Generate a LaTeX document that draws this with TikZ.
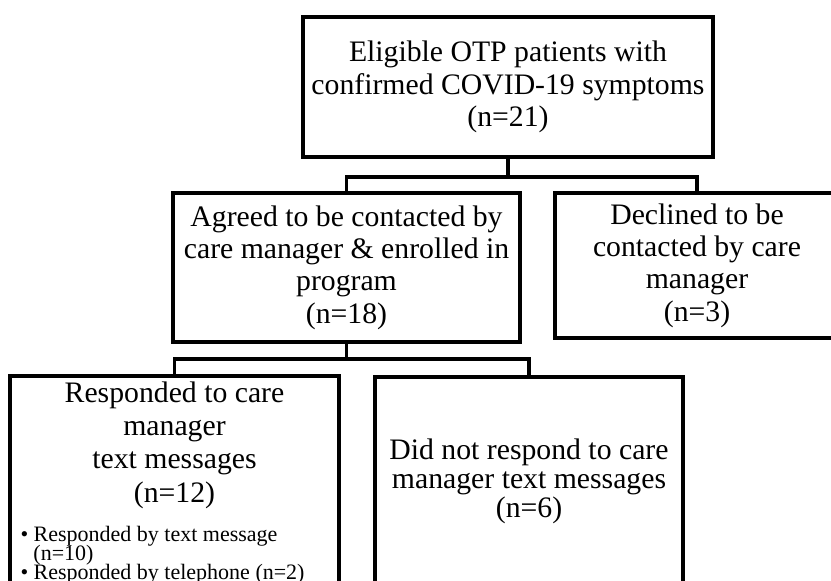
\documentclass[tikz,border=0pt]{standalone}
\usepackage{fontspec}
\setmainfont{Liberation Serif}

\tikzset{every picture/.style={line width=0.75pt}}
\tikzset{
	flowbox/.style={draw, line width=2.4pt, align=center, inner sep=2pt, font=\fontsize{22.3}{24.3}\selectfont},
	flowline/.style={line width=2.4pt},
	maintxt/.style={align=center, inner sep=0pt, font=\fontsize{22.3}{25}\selectfont},
	listtxt/.style={inner sep=0pt, anchor=base west, font=\fontsize{16.5}{16.5}\selectfont}
}

\begin{document}
\begin{tikzpicture}[x=0.75pt,y=0.75pt,yscale=-1,xscale=1]
	\useasboundingbox (0,0) rectangle (831,581);
	\clip (0,0) rectangle (831,581);

	%Shape: Rectangle [elig]
	\node[flowbox, minimum width=307.5pt, minimum height=105pt] (elig) at (508,87) {Eligible OTP patients with\\confirmed COVID-19 symptoms\\(n=21)};
	%Shape: Rectangle [agreed]
	\node[flowbox, minimum width=260.25pt, minimum height=111.75pt] (agreed) at (346.5,267.5) {Agreed to be contacted by\\care manager \& enrolled in\\program\\(n=18)};
	%Shape: Rectangle [declined]
	\node[flowbox, minimum width=213pt, minimum height=108.75pt] (declined) at (697,265.5) {Declined to be\\contacted by care\\manager\\(n=3)};
	%Shape: Rectangle [resp]
	\node[flowbox, minimum width=246.75pt, minimum height=157.5pt] (resp) at (174.5,481) {};
	%Shape: Rectangle [didnot]
	\node[flowbox, minimum width=231pt, minimum height=156.75pt, font=\fontsize{22.3}{22}\selectfont] (didnot) at (529,481.5) {Did not respond to care\\manager text messages\\(n=6)};

	% Text Node
	\node[maintxt] (resptxt) at (174.5,445) {Responded to care\\manager\\text messages\\(n=12)};
	% Text Node
	\node[listtxt] (resp1) at (20,541.5) {\textbullet{} Responded by text message};
	% Text Node
	\node[listtxt] (resp2) at (33,560.5) {(n=10)};
	% Text Node
	\node[listtxt] (resp3) at (20,579.5) {\textbullet{} Responded by telephone (n=2)};

	%Straight Lines [first split]
	\coordinate (j1) at (508,177);
	\draw[flowline] (elig.south) -- (j1);
	\draw[flowline] (agreed.north) |- (j1) -| (declined.north);
	%Straight Lines [second split]
	\coordinate (j2) at (346.5,359);
	\draw[flowline] (agreed.south) -- (j2);
	\draw[flowline] (resp.north) |- (j2) -| (didnot.north);

\end{tikzpicture}
\end{document}
